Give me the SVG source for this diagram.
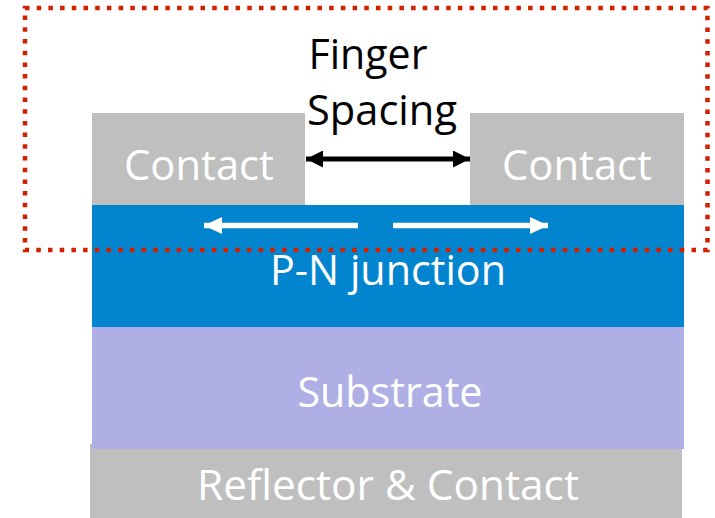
<svg xmlns="http://www.w3.org/2000/svg" width="715" height="518" viewBox="0 0 715 518">
  <style>
    .lbl { font-family: "Open Sans", "Noto Sans", "Liberation Sans", sans-serif; font-size: 42px; text-anchor: middle; }
    .light { fill: #FFFFFF; }
    .dark { fill: #000000; }
    .gray { fill: #BFBFBF; }
    .junction { fill: #0285CE; }
    .substrate { fill: #AFAFE5; }
    .frame { fill: none; stroke: #D02000; stroke-width: 4.5; stroke-dasharray: 4.5 7.2; }
    .span { stroke: #000000; stroke-width: 5; fill: none; }
    .flow { stroke: #FFFFFF; stroke-width: 5.5; fill: none; }
  </style>
  <defs>
    <marker id="headBlack" markerUnits="userSpaceOnUse" markerWidth="17" markerHeight="17" refX="17" refY="8.5" orient="auto-start-reverse">
      <path d="M0,0 L17,8.5 L0,17 z" fill="#000000"/>
    </marker>
    <marker id="headWhite" markerUnits="userSpaceOnUse" markerWidth="18" markerHeight="17" refX="18" refY="8.5" orient="auto">
      <path d="M0,0 L18,8.5 L0,17 z" fill="#FFFFFF"/>
    </marker>
  </defs>

  <!-- bottom reflector / back contact -->
  <g id="reflector">
    <rect class="gray" x="90" y="444" width="592" height="74"/>
    <text class="lbl light" x="388" y="500" textLength="382" lengthAdjust="spacingAndGlyphs">Reflector &amp; Contact</text>
  </g>

  <!-- substrate layer -->
  <g id="substrate">
    <rect class="substrate" x="92" y="327" width="592" height="122"/>
    <text class="lbl light" x="390" y="407" textLength="185" lengthAdjust="spacingAndGlyphs">Substrate</text>
  </g>

  <!-- front finger contacts -->
  <g id="contact-left">
    <rect class="gray" x="92" y="113" width="213" height="94"/>
    <text class="lbl light" x="199" y="180" textLength="150" lengthAdjust="spacingAndGlyphs">Contact</text>
  </g>
  <g id="contact-right">
    <rect class="gray" x="470" y="113" width="214" height="94"/>
    <text class="lbl light" x="577" y="180" textLength="150" lengthAdjust="spacingAndGlyphs">Contact</text>
  </g>

  <!-- junction layer -->
  <g id="pn-junction">
    <rect class="junction" x="92" y="205" width="592" height="122"/>
    <text class="lbl light" x="388" y="285" textLength="236" lengthAdjust="spacingAndGlyphs">P-N junction</text>
  </g>

  <!-- spacing label -->
  <g id="finger-spacing">
    <text class="lbl dark" x="368" y="69" textLength="119" lengthAdjust="spacingAndGlyphs">Finger</text>
    <text class="lbl dark" x="382" y="125" textLength="150" lengthAdjust="spacingAndGlyphs">Spacing</text>
  </g>

  <!-- arrows -->
  <g id="connectors">
    <line class="span" x1="306" y1="159" x2="470" y2="159" marker-start="url(#headBlack)" marker-end="url(#headBlack)"/>
    <line class="flow" x1="358" y1="225.5" x2="204" y2="225.5" marker-end="url(#headWhite)"/>
    <line class="flow" x1="393" y1="225.5" x2="548" y2="225.5" marker-end="url(#headWhite)"/>
  </g>

  <!-- dotted outline around the top region -->
  <g id="region-outline">
    <rect class="frame" x="25" y="8" width="682.5" height="242"/>
  </g>
</svg>
